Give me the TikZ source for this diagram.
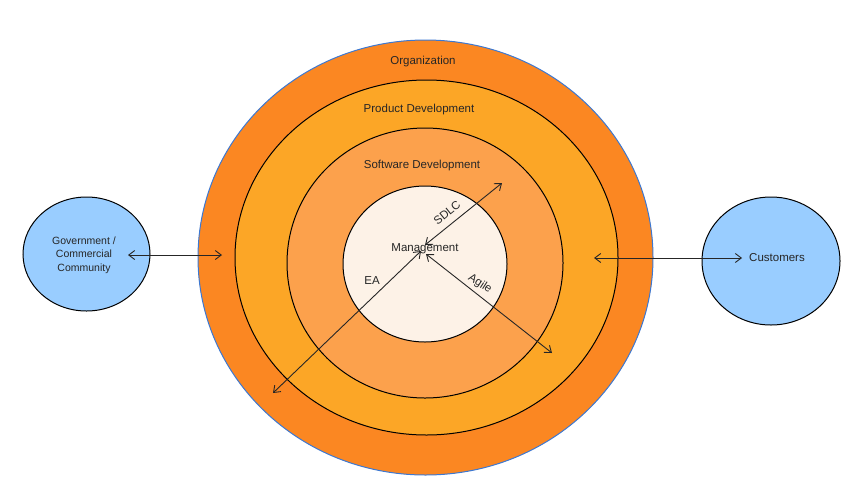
\documentclass[tikz,border=0pt]{standalone}
\usepackage{fontspec}
\setmainfont{Liberation Sans}
\usetikzlibrary{shapes.geometric,arrows.meta}
\definecolor{orgC}{RGB}{251,135,34}
\definecolor{prodC}{RGB}{252,166,38}
\definecolor{softC}{RGB}{252,161,76}
\definecolor{mgmtC}{RGB}{253,242,231}
\definecolor{blueC}{RGB}{153,205,255}
\definecolor{edgeBlue}{RGB}{60,120,210}
\tikzset{
  ring/.style={ellipse, draw=black, line width=1pt, inner sep=0pt},
  party/.style={ellipse, draw=black, line width=1pt, fill=blueC, inner sep=0pt},
  lbl/.style={font=\fontsize{11.5}{13}\selectfont, text=black!85, align=center, inner sep=1pt},
  link/.style={line width=0.9pt, draw=black!85, {Straight Barb[length=6pt,width=9pt]}-{Straight Barb[length=6pt,width=9pt]}}
}
\begin{document}
\begin{tikzpicture}[x=1pt,y=-1pt]
\useasboundingbox (0,0) rectangle (850,496);
\node[ring, draw=edgeBlue, fill=orgC, minimum width=455pt, minimum height=435pt] (org) at (425.5,257.5) {};
\node[ring, fill=prodC, minimum width=383pt, minimum height=355pt] (prod) at (426.5,257.5) {};
\node[ring, fill=softC, minimum width=276pt, minimum height=270pt] (soft) at (425,263) {};
\node[ring, fill=mgmtC, minimum width=164pt, minimum height=156pt] (mgmt) at (425,264) {};
\node[party, minimum width=127pt, minimum height=114pt] (gov) at (86.5,254) {};
\node[party, minimum width=138pt, minimum height=128pt] (cust) at (771,261) {};

\node[lbl] (orgL) at (423,62) {Organization};
\node[lbl] (prodL) at (419,110) {Product Development};
\node[lbl] (softL) at (422,166) {Software Development};
\node[lbl] (mgmtL) at (425,249) {Management};
\node[lbl, font=\fontsize{10.5}{13.5}\selectfont] (govL) at (84,255) {Government /\\Commercial\\Community};
\node[lbl] (custL) at (777,258) {Customers};
\node[lbl, rotate=39] (sdlcL) at (447,213) {SDLC};
\node[lbl] (eaL) at (372,281) {EA};
\node[lbl, rotate=-33] (agileL) at (480,284) {Agile};

\coordinate (govIn) at (128,255);
\coordinate (orgW) at (222,255);
\coordinate (prodE) at (594,258);
\coordinate (custIn) at (742,258);
\coordinate (cSDLC) at (425,245);
\coordinate (oSDLC) at (502,183);
\coordinate (cEA) at (421,251);
\coordinate (oEA) at (273,393);
\coordinate (cAg) at (426,254);
\coordinate (oAg) at (552,353);

\draw[link] (govIn) -- (orgW);
\draw[link] (prodE) -- (custIn);
\draw[link] (cSDLC) -- (oSDLC);
\draw[link] (cEA) -- (oEA);
\draw[link] (cAg) -- (oAg);
\end{tikzpicture}
\end{document}
